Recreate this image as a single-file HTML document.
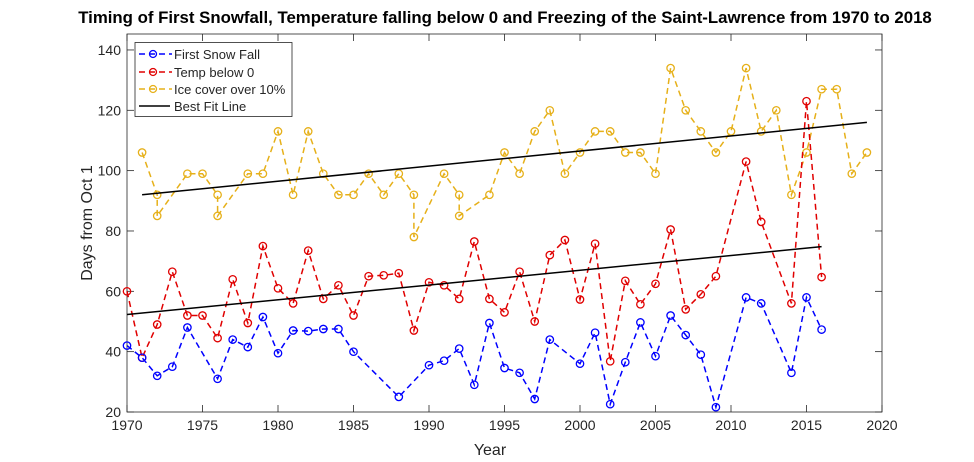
<!DOCTYPE html>
<html><head><meta charset="utf-8"><style>
html,body{margin:0;padding:0;background:#fff;}
svg{display:block;font-family:"Liberation Sans",Arial,sans-serif;}
</style></head><body>
<svg id="s" width="974" height="462" viewBox="0 0 974 462" xmlns="http://www.w3.org/2000/svg">
<rect width="974" height="462" fill="#fff"/>
<text x="505" y="23" text-anchor="middle" font-size="16.8" font-weight="bold">Timing of First Snowfall, Temperature falling below 0 and Freezing of the Saint-Lawrence from 1970 to 2018</text>
<g id="g"></g>
<text x="490" y="455" text-anchor="middle" font-size="16" fill="#262626">Year</text>
<text transform="translate(92,223) rotate(-90)" text-anchor="middle" font-size="16" fill="#262626">Days from Oct 1</text>
<rect x="135" y="42.5" width="157" height="74" fill="#fff" stroke="#262626" stroke-width="0.8"/>
<g font-size="13" fill="#262626">
<line x1="139" y1="54" x2="172" y2="54" stroke="#0000ff" stroke-width="1.5" stroke-dasharray="6,4"/><circle cx="153" cy="54" r="3.5" fill="none" stroke="#0000ff" stroke-width="1.3"/>
<text x="174" y="59">First Snow Fall</text>
<line x1="139" y1="72" x2="172" y2="72" stroke="#e00000" stroke-width="1.5" stroke-dasharray="6,4"/><circle cx="153" cy="72" r="3.5" fill="none" stroke="#e00000" stroke-width="1.3"/>
<text x="174" y="77">Temp below 0</text>
<line x1="139" y1="89" x2="172" y2="89" stroke="#e6b019" stroke-width="1.5" stroke-dasharray="6,4"/><circle cx="153" cy="89" r="3.5" fill="none" stroke="#e6b019" stroke-width="1.3"/>
<text x="174" y="94">Ice cover over 10%</text>
<line x1="139" y1="106" x2="170" y2="106" stroke="#000" stroke-width="1.5"/>
<text x="174" y="111">Best Fit Line</text>
</g>
</svg>
<script>
var L=127,R=882,T=34,B=412;
function X(y){return L+(y-1970)*15.1;}
function Y(v){return B-(v-20)*3.017;}
var g=document.getElementById('g'),h='';
h+='<rect x="'+L+'" y="'+T+'" width="'+(R-L)+'" height="'+(B-T)+'" fill="none" stroke="#262626" stroke-width="0.8"/>';
for(var yr=1970;yr<=2020;yr+=5){var x=X(yr);h+='<line x1="'+x+'" y1="'+B+'" x2="'+x+'" y2="'+(B-7)+'" stroke="#262626" stroke-width="0.8"/><line x1="'+x+'" y1="'+T+'" x2="'+x+'" y2="'+(T+7)+'" stroke="#262626" stroke-width="0.8"/><text x="'+x+'" y="'+(B+18)+'" text-anchor="middle" font-size="14" fill="#262626">'+yr+'</text>';}
for(var v=20;v<=140;v+=20){var y=Y(v);h+='<line x1="'+L+'" y1="'+y+'" x2="'+(L+7)+'" y2="'+y+'" stroke="#262626" stroke-width="0.8"/><line x1="'+R+'" y1="'+y+'" x2="'+(R-7)+'" y2="'+y+'" stroke="#262626" stroke-width="0.8"/><text x="'+(L-6)+'" y="'+(y+5)+'" text-anchor="end" font-size="14" fill="#262626">'+v+'</text>';}
var ice=[[1971,106],[1972,92],[1972,85],[1974,99],[1975,99],[1976,92],[1976,85],[1978,99],[1979,99],[1980,113],[1981,92],[1982,113],[1983,99],[1984,92],[1985,92],[1986,99],[1987,92],[1988,99],[1989,92],[1989,78],[1991,99],[1992,92],[1992,85],[1994,92],[1995,106],[1996,99],[1997,113],[1998,120],[1999,99],[2000,106],[2001,113],[2002,113],[2003,106],[2004,106],[2005,99],[2006,134],[2007,120],[2008,113],[2009,106],[2010,113],[2011,134],[2012,113],[2013,120],[2014,92],[2015,106],[2016,127],[2017,127],[2018,99],[2019,106]];
var red=[[1970,60],[1971,38],[1972,49],[1973,66.5],[1974,52],[1975,52],[1976,44.5],[1977,64],[1978,49.5],[1979,75],[1980,61],[1981,56],[1982,73.5],[1983,57.5],[1984,62],[1985,52],[1986,65],[1987,65.3],[1988,66],[1989,47],[1990,63],[1991,62],[1992,57.5],[1993,76.5],[1994,57.5],[1995,53],[1996,66.5],[1997,50],[1998,72],[1999,77],[2000,57.3],[2001,75.8],[2002,36.8],[2003,63.5],[2004,55.7],[2005,62.5],[2006,80.5],[2007,54],[2008,59],[2009,65],[2011,103],[2012,83],[2014,56],[2015,123],[2016,64.7]];
var blue=[[1970,42],[1971,38],[1972,32],[1973,35],[1974,48],[1976,31],[1977,44],[1978,41.5],[1979,51.5],[1980,39.5],[1981,47],[1982,46.8],[1983,47.5],[1984,47.5],[1985,40],[1988,25],[1990,35.5],[1991,37],[1992,41],[1993,29],[1994,49.5],[1995,34.6],[1996,33],[1997,24.3],[1998,44],[2000,36],[2001,46.3],[2002,22.6],[2003,36.5],[2004,49.7],[2005,38.5],[2006,52],[2007,45.5],[2008,39],[2009,21.6],[2011,58],[2012,56],[2014,33],[2015,58],[2016,47.3]];
function ser(d,c){var p=d.map(function(a){return X(a[0]).toFixed(1)+','+Y(a[1]).toFixed(1);}).join(' ');
h+='<polyline points="'+p+'" fill="none" stroke="'+c+'" stroke-width="1.5" stroke-dasharray="6,4"/>';
d.forEach(function(a){h+='<circle cx="'+X(a[0]).toFixed(1)+'" cy="'+Y(a[1]).toFixed(1)+'" r="3.7" fill="none" stroke="'+c+'" stroke-width="1.3"/>';});}
ser(ice,'#e6b019');ser(red,'#e00000');ser(blue,'#0000ff');
h+='<line x1="'+X(1971)+'" y1="'+Y(92)+'" x2="'+X(2019)+'" y2="'+Y(116)+'" stroke="#000" stroke-width="1.5"/>';
h+='<line x1="'+X(1970)+'" y1="'+Y(52.3)+'" x2="'+X(2016)+'" y2="'+Y(74.8)+'" stroke="#000" stroke-width="1.5"/>';
g.innerHTML=h;
</script>
</body></html>
